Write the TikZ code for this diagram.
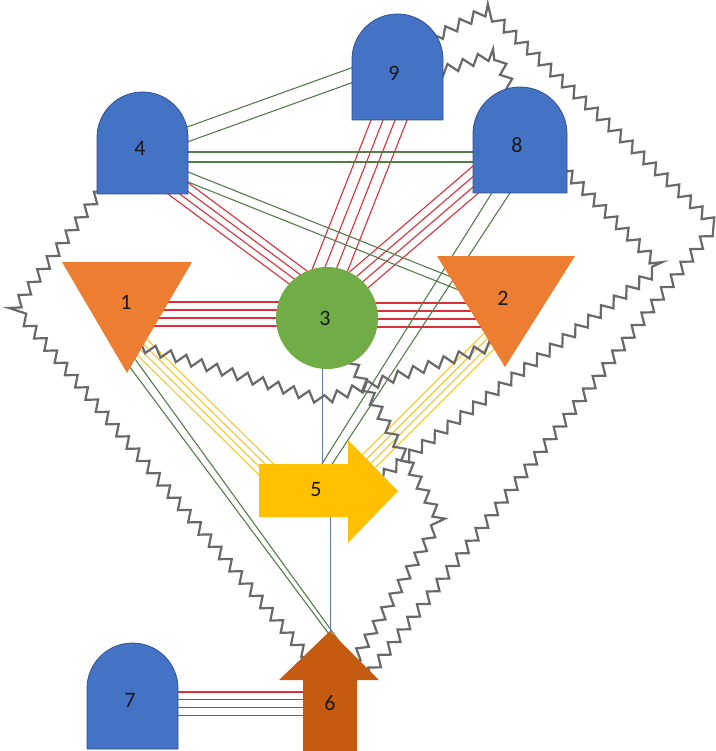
\documentclass[tikz,border=0pt]{standalone}
\usepackage{fontspec}
\setmainfont{Carlito}
\usetikzlibrary{decorations.pathmorphing}
\pgfdeclarelayer{back}
\pgfdeclarelayer{bg}
\pgfdeclarelayer{shp}
\pgfsetlayers{back,bg,shp,main}
\definecolor{shpblue}{HTML}{4472C4}
\definecolor{shpblueline}{HTML}{2F528F}
\definecolor{shporange}{HTML}{ED7D31}
\definecolor{shpgreen}{HTML}{70AD47}
\definecolor{shpyellow}{HTML}{FFC000}
\definecolor{shpbrown}{HTML}{C55A11}
\definecolor{lnred}{RGB}{225,45,55}
\definecolor{lngreen}{RGB}{85,125,75}
\definecolor{lnyellow}{RGB}{245,200,50}
\definecolor{lnblue}{RGB}{100,120,180}
\definecolor{lngray}{RGB}{105,105,105}
\begin{document}
\begin{tikzpicture}[x=1pt,y=-1pt,
  lbl/.style={inner sep=0pt, font=\fontsize{22}{24}\selectfont, text=black!90},
  redln/.style={draw=lnred, line width=1.1pt},
  grnln/.style={draw=lngreen, line width=1.1pt},
  ylwln/.style={draw=lnyellow, line width=1.1pt},
  bluln/.style={draw=lnblue, line width=1pt},
  zz/.style={draw=lngray, line width=2.2pt, line join=miter, decorate,
    decoration={zigzag, segment length=16pt, amplitude=5pt}},
  dly/.style={fill=shpblue, draw=shpblueline, line width=0.8pt},
  tri/.style={fill=shporange},
  circ/.style={fill=shpgreen},
  yarrow/.style={fill=shpyellow},
  barrow/.style={fill=shpbrown}]
\useasboundingbox (0,0) rectangle (715,751);
\begin{pgfonlayer}{back}
\fill[white] (0,0) rectangle (715,751);
\end{pgfonlayer}

% labels / nodes
\node[lbl] (n4) at (140,148) {4};
\node[lbl] (n9) at (394,73) {9};
\node[lbl] (n8) at (517,145) {8};
\node[lbl] (n7) at (130,700) {7};
\node[lbl] (n1) at (126,302) {1};
\node[lbl] (n2) at (503,298) {2};
\node[lbl] (n3) at (325,318) {3};
\node[lbl] (n5) at (316,490) {5};
\node[lbl] (n6) at (330,703) {6};

% bend points of zigzag connectors
\coordinate (b1) at (15,308);
\coordinate (b2) at (323,400);
\coordinate (b3a) at (487,10);
\coordinate (b3b) at (715,225);
\coordinate (b4) at (497,53);
\coordinate (b5) at (660,267);
\coordinate (b6) at (440,520);

\begin{pgfonlayer}{bg}
% red bundles
\foreach \o in {-1.5,-0.5,0.5,1.5}{
  \draw[redln] ([shift={({20+(\o)*(-4.17)},{27+(\o)*5.62})}]n4.center) -- ([shift={({-10+(\o)*(-4.17)},{-28+(\o)*5.62})}]n3.center);
  \draw[redln] ([shift={({1+(\o)*12},32)}]n9.center) -- ([shift={({-3+(\o)*12},-28)}]n3.center);
  \draw[redln] ([shift={({-22+(\o)*5.2},{18+(\o)*6.1})}]n8.center) -- ([shift={({15+(\o)*5.2},{-22+(\o)*6.1})}]n3.center);
  \draw[redln] ([shift={(0,{12+(\o)*8})}]n1.center) -- ([shift={(2,{-4+(\o)*8})}]n3.center);
  \draw[redln] ([shift={(2,{-3+(\o)*8})}]n3.center) -- ([shift={(2,{17+(\o)*8})}]n2.center);
  \draw[redln] ([shift={(2,{3.5+(\o)*7.7})}]n7.center) -- ([shift={(0,{0.5+(\o)*7.7})}]n6.center);
  % yellow bundles
  \draw[ylwln] ([shift={({14+(\o)*4.2},{43+(\o)*(-4.27)})}]n1.center) -- ([shift={({-41+(\o)*4.2},{-12+(\o)*(-4.27)})}]n5.center);
  \draw[ylwln] ([shift={({-8+(\o)*4.27},{37+(\o)*4.27})}]n2.center) -- ([shift={({49+(\o)*4.27},{-25+(\o)*4.27})}]n5.center);
}
% green pairs
\foreach \o in {-0.5,0.5}{
  \draw[grnln] ([shift={(25,{-5.5+(\o)*15})}]n4.center) -- ([shift={(-14,{-7.9+(\o)*15})}]n9.center);
  \draw[grnln] ([shift={(0,{9+(\o)*10})}]n4.center) -- ([shift={(0,{12+(\o)*10})}]n8.center);
  \draw[grnln] ([shift={(30,{21.8+(\o)*10})}]n4.center) -- ([shift={(-33,{-8.5+(\o)*10})}]n2.center);
}
\draw[grnln] ([shift={(-17,35)}]n8.center) -- ([shift={(-1,-15)}]n5.center);
\draw[grnln] ([shift={(1.5,35)}]n8.center) -- ([shift={(9,-15)}]n5.center);
\draw[grnln] ([shift={(-5.2,53)}]n1.center) -- ([shift={(10.9,-53)}]n6.center);
\draw[grnln] ([shift={(6.1,53)}]n1.center) -- ([shift={(15.5,-53)}]n6.center);
% blue lines
\draw[bluln] ([shift={(-3,22)}]n3.center) -- ([shift={(6,-10)}]n5.center);
\draw[bluln] ([shift={(14,10)}]n5.center) -- ([shift={(0,-53)}]n6.center);
% zigzag connectors
\draw[zz] ([shift={(-35,37)}]n4.center) -- (b1) -- ([shift={(-20,-43)}]n6.center);
\draw[zz] ([shift={(9,43)}]n1.center) -- (b2) -- ([shift={(-8,47)}]n2.center);
\draw[zz] ([shift={(36,-33)}]n9.center) -- (b3a) -- (b3b) -- ([shift={(38,-27)}]n6.center);
\draw[zz] ([shift={(36,2)}]n9.center) -- (b4) -- ([shift={(-2,-45)}]n8.center);
\draw[zz] ([shift={(38,15)}]n8.center) -- (b5) -- ([shift={(64,-12)}]n5.center);
\draw[zz] ([shift={(20,32)}]n3.center) -- (b6) -- ([shift={(22,-38)}]n6.center);
\end{pgfonlayer}

\begin{pgfonlayer}{shp}
\path[dly] (97,194) -- (97,137.5) arc[start angle=180,end angle=360,radius=45.5] -- (188,194) -- cycle;
\path[dly] (352,120) -- (352,59.5) arc[start angle=180,end angle=360,radius=45.5] -- (443,120) -- cycle;
\path[dly] (473,193) -- (473,134) arc[start angle=180,end angle=360,radius=47] -- (567,193) -- cycle;
\path[dly] (87,749) -- (87,688.5) arc[start angle=180,end angle=360,radius=45.5] -- (178,749) -- cycle;
\path[tri] (62,262) -- (192,262) -- (127,373) -- cycle;
\path[tri] (437,256) -- (575,256) -- (505,367) -- cycle;
\path[circ] (327,318) circle[radius=51];
\path[yarrow] (259,464) -- (348,464) -- (348,440) -- (398,491) -- (348,543) -- (348,517) -- (259,517) -- cycle;
\path[barrow] (303,751) -- (303,680) -- (279,680) -- (330,631) -- (379,680) -- (357,680) -- (357,751) -- cycle;
\end{pgfonlayer}
\end{tikzpicture}
\end{document}
